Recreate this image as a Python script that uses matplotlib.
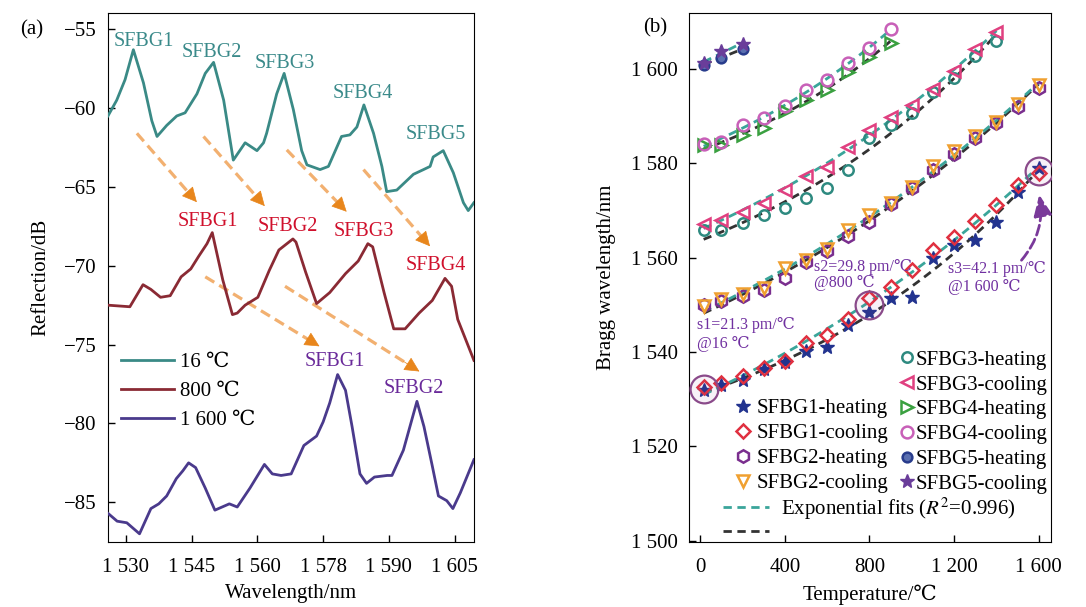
import matplotlib
matplotlib.use('Agg')
import matplotlib.pyplot as plt
import numpy as np

plt.rcParams['font.family'] = ['Liberation Serif', 'DejaVu Serif', 'DejaVu Sans']
plt.rcParams['mathtext.fontset'] = 'stix'

# ---- (a) reflection spectra ----
# wavelength axis is drawn on an evenly spaced scale, labels as printed
wl_ticks = [1530, 1545, 1560, 1575, 1590, 1605]
wl_ticklabels = ['1 530', '1 545', '1 560', '1 578', '1 590', '1 605']
db_ticks = [-85, -80, -75, -70, -65, -60, -55]

wl_16 = [1525.9, 1527.9, 1529.8, 1531.7, 1534.0, 1535.9, 1537.1, 1539.3, 1541.6, 1543.5,
         1546.2, 1548.1, 1550.0, 1552.3, 1554.5, 1557.2, 1559.9, 1561.4, 1562.1, 1564.4,
         1566.1, 1568.2, 1570.1, 1571.3, 1574.3, 1576.2, 1579.2, 1581.1, 1582.7, 1584.3,
         1586.5, 1588.4, 1589.5, 1591.8, 1595.6, 1597.9, 1599.4, 1600.1, 1602.4, 1604.7,
         1607.0, 1608.1, 1609.4]
db_16 = [-60.5, -59.5, -58.2, -56.3, -58.4, -60.8, -61.8, -61.1, -60.5, -60.3,
         -59.1, -57.8, -57.1, -59.5, -63.3, -62.2, -62.7, -62.2, -61.6, -59.1,
         -57.8, -60.1, -62.7, -63.6, -63.9, -63.7, -61.8, -61.7, -61.2, -59.8,
         -61.6, -63.7, -65.3, -65.2, -64.2, -63.9, -63.7, -63.1, -62.7, -64.1,
         -66.0, -66.5, -66.0]

wl_800 = [1525.9, 1530.9, 1533.9, 1535.7, 1537.9, 1540.1, 1542.6, 1544.8, 1546.6, 1548.5,
          1549.7, 1552.1, 1554.3, 1555.4, 1557.2, 1560.1, 1562.7, 1564.9, 1568.1, 1568.8,
          1571.0, 1573.5, 1576.5, 1580.1, 1583.0, 1585.2, 1586.3, 1588.9, 1591.1, 1593.7,
          1596.9, 1599.9, 1602.8, 1604.3, 1605.7, 1609.4]
db_800 = [-72.5, -72.6, -71.2, -71.5, -72.0, -71.9, -70.7, -70.2, -69.4, -68.6,
          -67.9, -70.9, -73.1, -73.0, -72.5, -72.0, -70.3, -69.0, -68.3, -68.5,
          -70.4, -72.4, -71.7, -70.5, -69.7, -68.6, -68.8, -71.7, -74.0, -74.0,
          -73.0, -72.2, -70.8, -71.3, -73.4, -76.0]

wl_1600 = [1525.9, 1528.0, 1530.2, 1533.1, 1535.7, 1537.5, 1539.3, 1541.5, 1543.0, 1544.3,
           1545.9, 1548.1, 1550.3, 1553.6, 1555.4, 1558.3, 1561.6, 1563.4, 1565.4, 1567.7,
           1570.6, 1573.5, 1575.0, 1576.5, 1578.3, 1580.1, 1581.6, 1583.4, 1584.9, 1586.7,
           1589.6, 1590.7, 1593.3, 1596.4, 1598.0, 1599.9, 1601.3, 1603.2, 1604.6, 1606.3,
           1609.4]
db_1600 = [-85.7, -86.2, -86.3, -87.0, -85.4, -85.1, -84.6, -83.5, -83.0, -82.5,
           -82.8, -84.1, -85.5, -85.1, -85.3, -84.1, -82.6, -83.2, -83.3, -83.2,
           -81.4, -80.8, -79.9, -78.7, -76.9, -77.9, -80.2, -83.2, -83.8, -83.4,
           -83.3, -83.3, -81.7, -78.6, -80.2, -82.7, -84.6, -84.9, -85.4, -84.4,
           -82.3]

# peak labels: (x, y) for each spectrum
lab16_x = [1534.0, 1549.6, 1566.3, 1584.0, 1600.7]
lab16_y = [-55.8, -56.5, -57.2, -59.1, -61.7]
lab800_x = [1548.7, 1566.9, 1584.3, 1600.7]
lab800_y = [-67.2, -67.5, -67.8, -70.0]
lab1600_x = [1577.6, 1595.6]
lab1600_y = [-76.1, -77.8]

# orange shift arrows
arrow_x0 = [1532.5, 1547.7, 1566.7, 1584.2, 1548.1, 1566.3]
arrow_y0 = [-61.6, -61.8, -62.65, -63.9, -70.7, -71.3]
arrow_x1 = [1546.6, 1562.1, 1580.8, 1599.8, 1574.7, 1597.5]
arrow_y1 = [-66.1, -66.35, -66.7, -68.9, -75.2, -76.8]

# ---- (b) Bragg wavelength vs temperature ----
temp = [16, 100, 200, 300, 400, 500, 600, 700, 800, 900, 1000, 1100, 1200, 1300, 1400, 1500, 1600]
sfbg1_heat = [1532.0, 1533.0, 1534.0, 1536.3, 1537.8, 1540.2, 1541.1, 1545.7, 1548.4, 1551.4,
              1551.7, 1559.9, 1562.7, 1563.7, 1567.6, 1574.0, 1578.9]
sfbg1_cool = [1532.5, 1533.5, 1534.9, 1536.6, 1538.0, 1541.8, 1543.7, 1546.9, 1551.4, 1553.8,
              1557.4, 1561.6, 1564.4, 1567.8, 1571.2, 1575.4, 1577.9]
sfbg2_heat = [1549.9, 1550.9, 1551.8, 1553.2, 1555.6, 1559.0, 1561.3, 1564.6, 1567.6, 1571.3,
              1574.7, 1578.6, 1582.0, 1585.3, 1588.5, 1592.0, 1596.0]
sfbg2_cool = [1549.8, 1551.2, 1552.2, 1553.6, 1557.8, 1559.5, 1561.8, 1565.8, 1569.0, 1571.6,
              1575.0, 1579.4, 1582.5, 1585.8, 1588.8, 1592.6, 1596.6]
sfbg3_heat = [1565.9, 1565.9, 1567.3, 1569.0, 1570.5, 1572.6, 1574.7, 1578.6, 1585.3, 1588.1,
              1590.6, 1595.0, 1598.0, 1602.8, 1605.8]
sfbg3_cool = [1567.1, 1568.0, 1569.7, 1571.6, 1574.3, 1577.2, 1579.3, 1583.5, 1587.0, 1589.7,
              1592.4, 1595.7, 1599.6, 1604.2, 1607.8]
sfbg4_heat = [1583.9, 1583.9, 1586.0, 1587.4, 1591.0, 1593.4, 1595.5, 1599.4, 1602.6, 1605.4]
sfbg4_cool = [1584.0, 1584.4, 1588.1, 1589.5, 1592.2, 1595.5, 1597.7, 1601.2, 1604.4, 1608.4]
sfbg5_heat = [1600.9, 1602.4, 1604.2]
sfbg5_cool = [1601.2, 1603.8, 1605.3]

ring_idx = [0, 8, 16]          # highlighted SFBG1 points (16, 800, 1600 C)
t_ticks = [0, 400, 800, 1200, 1600]
t_ticklabels = ['0', '400', '800', '1 200', '1 600']
bw_ticks = [1500, 1520, 1540, 1560, 1580, 1600]
bw_ticklabels = ['1 500', '1 520', '1 540', '1 560', '1 580', '1 600']


def exp_fit(t, y):
    # y = a + b*exp(t/tau), tau by grid search, a/b by least squares
    t = np.asarray(t, float)
    y = np.asarray(y, float)
    best = None
    for tau in np.linspace(200, 8000, 400):
        X = np.column_stack([np.ones_like(t), np.exp(t / tau)])
        coef, *_ = np.linalg.lstsq(X, y, rcond=None)
        err = np.sum((X @ coef - y) ** 2)
        if best is None or err < best[0]:
            best = (err, tau, coef)
    _, tau, coef = best
    tt = np.linspace(t.min(), t.max(), 100)
    return tt, coef[0] + coef[1] * np.exp(tt / tau)


fig = plt.figure(figsize=(10.86, 6.07), dpi=100)
ax1 = fig.add_axes([0.0994, 0.1076, 0.3370, 0.8715])
ax2 = fig.add_axes([0.6344, 0.1076, 0.3331, 0.8715])

# ---------- panel (a) ----------
ax1.plot(wl_16, db_16, color='#3a8a86', lw=2, label='16 ℃', zorder=3)
ax1.plot(wl_800, db_800, color='#8a2a34', lw=2, label='800 ℃', zorder=3)
ax1.plot(wl_1600, db_1600, color='#4a3a8c', lw=2, label='1 600 ℃', zorder=3)

for x0, y0, x1, y1 in zip(arrow_x0, arrow_y0, arrow_x1, arrow_y1):
    xm = x0 + 0.9 * (x1 - x0)
    ym = y0 + 0.9 * (y1 - y0)
    ax1.plot([x0, xm], [y0, ym], ls=(0, (3.3, 1.8)), color='#f2b070', lw=2.3, zorder=2)
    ax1.annotate('', xy=(x1, y1), xytext=(x0 + 0.85 * (x1 - x0), y0 + 0.85 * (y1 - y0)),
                 arrowprops=dict(arrowstyle='-|>,head_length=0.8,head_width=0.4',
                                 color='#e8861c', lw=0.5, mutation_scale=12), zorder=2)

for i, (x, y) in enumerate(zip(lab16_x, lab16_y)):
    ax1.text(x, y, f'SFBG{i + 1}', color='#3a8a8a', fontsize=14.5, ha='center', va='center')
for i, (x, y) in enumerate(zip(lab800_x, lab800_y)):
    ax1.text(x, y, f'SFBG{i + 1}', color='#d0102c', fontsize=14.5, ha='center', va='center')
for i, (x, y) in enumerate(zip(lab1600_x, lab1600_y)):
    ax1.text(x, y, f'SFBG{i + 1}', color='#6a2a9a', fontsize=14.5, ha='center', va='center')

ax1.set_xlim(1525.9, 1609.4)
ax1.set_ylim(-87.5, -53.95)
ax1.set_xticks(wl_ticks)
ax1.set_xticklabels(wl_ticklabels)
ax1.set_yticks(db_ticks)
ax1.tick_params(direction='in', length=5, width=1, labelsize=15, pad=8)
ax1.tick_params(axis='x', pad=12)
ax1.set_xlabel('Wavelength/nm', fontsize=15, labelpad=5)
ax1.set_ylabel('Reflection/dB', fontsize=15, labelpad=10)
ax1.legend(loc='upper left', bbox_to_anchor=(0.037, 0.358), frameon=False, fontsize=15,
           handlelength=2.5, handletextpad=0.3, labelspacing=0.45, borderpad=0,
           borderaxespad=0)
fig.text(20 / 1086, 1 - 30 / 607, '(a)', fontsize=15, ha='left', va='center')

# ---------- panel (b) ----------
cool_fit_color = '#3aa59a'
heat_fit_color = '#333333'
for heat, cool in [(sfbg1_heat, sfbg1_cool), (sfbg2_heat, sfbg2_cool), (sfbg3_heat, sfbg3_cool),
                   (sfbg4_heat, sfbg4_cool), (sfbg5_heat, sfbg5_cool)]:
    tt, fh = exp_fit(temp[:len(heat)], heat)
    ax2.plot(tt, fh, ls=(0, (3, 2)), color=heat_fit_color, lw=2, zorder=1)
    tt, fc = exp_fit(temp[:len(cool)], cool)
    ax2.plot(tt, fc, ls=(0, (3, 2)), color=cool_fit_color, lw=2, zorder=1)

mk = dict(ls='none', zorder=3)
h1h, = ax2.plot(temp, sfbg1_heat, marker='*', ms=10, color='#22338f', label='SFBG1-heating', **mk)
h1c, = ax2.plot(temp, sfbg1_cool, marker='D', ms=7, mfc='none', mec='#e03040', mew=1.8,
                label='SFBG1-cooling', **mk)
h2h, = ax2.plot(temp, sfbg2_heat, marker='h', ms=9, mfc='none', mec='#7a2e8e', mew=1.8,
                label='SFBG2-heating', **mk)
h2c, = ax2.plot(temp, sfbg2_cool, marker='v', ms=8.5, mfc='none', mec='#f0a030', mew=1.8,
                label='SFBG2-cooling', **mk)
h3h, = ax2.plot(temp[:len(sfbg3_heat)], sfbg3_heat, marker='o', ms=7.5, mfc='none', mec='#2e8a80',
                mew=1.8, label='SFBG3-heating', **mk)
h3c, = ax2.plot(temp[:len(sfbg3_cool)], sfbg3_cool, marker='<', ms=8.5, mfc='none', mec='#e04080',
                mew=1.8, label='SFBG3-cooling', **mk)
h4h, = ax2.plot(temp[:len(sfbg4_heat)], sfbg4_heat, marker='>', ms=8.5, mfc='none', mec='#3aa040',
                mew=1.8, label='SFBG4-heating', **mk)
h4c, = ax2.plot(temp[:len(sfbg4_cool)], sfbg4_cool, marker='o', ms=8.5, mfc='none', mec='#c860b8',
                mew=1.8, label='SFBG4-cooling', **mk)
h5h, = ax2.plot(temp[:len(sfbg5_heat)], sfbg5_heat, marker='o', ms=7, mfc='#5a6fb0', mec='#283c8c',
                mew=1.8, label='SFBG5-heating', **mk)
h5c, = ax2.plot(temp[:len(sfbg5_cool)], sfbg5_cool, marker='*', ms=10, color='#6a3d9a',
                label='SFBG5-cooling', **mk)

ring_t = [temp[i] for i in ring_idx]
ring_y = [(sfbg1_heat[i] + sfbg1_cool[i]) / 2 for i in ring_idx]
ax2.plot(ring_t, ring_y, ls='none', marker='o', ms=20, mfc=(0.6, 0.3, 0.6, 0.08), mec='#8a4a8a',
         mew=1.6, zorder=4)

note = dict(color='#7030a0', fontsize=11.5, ha='left', va='center')
ax2.text(-15, 1545.7, 's1=21.3 pm/℃', **note)
ax2.text(-15, 1541.6, '@16 ℃', **note)
ax2.text(538, 1558.1, 's2=29.8 pm/℃', **note)
ax2.text(538, 1554.7, '@800 ℃', **note)
ax2.text(1173, 1557.5, 's3=42.1 pm/℃', **note)
ax2.text(1173, 1553.7, '@1 600 ℃', **note)
ax2.annotate('', xy=(temp[-1], ring_y[-1] - 4.5), xytext=(1510, 1559),
             arrowprops=dict(arrowstyle='-|>,head_length=0.8,head_width=0.35', color='#7a3a9a',
                             lw=2, ls='--', connectionstyle='arc3,rad=0.25', mutation_scale=16))

leg_a = ax2.legend([h3h, h3c, h4h, h4c, h5h, h5c],
                   ['SFBG3-heating', 'SFBG3-cooling', 'SFBG4-heating', 'SFBG4-cooling',
                    'SFBG5-heating', 'SFBG5-cooling'],
                   loc='upper left', bbox_to_anchor=(0.579, 0.362), frameon=False, fontsize=15,
                   handlelength=0.8, handletextpad=0.05, labelspacing=0.25, borderpad=0,
                   borderaxespad=0, numpoints=1)
ax2.add_artist(leg_a)
leg_b = ax2.legend([h1h, h1c, h2h, h2c],
                   ['SFBG1-heating', 'SFBG1-cooling', 'SFBG2-heating', 'SFBG2-cooling'],
                   loc='upper left', bbox_to_anchor=(0.127, 0.270), frameon=False, fontsize=15,
                   handlelength=0.8, handletextpad=0.25, labelspacing=0.25, borderpad=0,
                   borderaxespad=0, numpoints=1)
ax2.add_artist(leg_b)
fit_c = plt.Line2D([], [], ls=(0, (3, 2)), color=cool_fit_color, lw=2)
fit_h = plt.Line2D([], [], ls=(0, (3, 2)), color=heat_fit_color, lw=2)
ax2.legend([fit_c, fit_h], ['Exponential fits ($R^2$=0.996)', ' '], loc='upper left',
           bbox_to_anchor=(0.094, 0.088), frameon=False, fontsize=15, handlelength=2.2,
           handletextpad=0.6, labelspacing=0.1, borderpad=0, borderaxespad=0)

ax2.set_xlim(-53.4, 1656.7)
ax2.set_ylim(1499.8, 1611.9)
ax2.set_xticks(t_ticks)
ax2.set_xticklabels(t_ticklabels)
ax2.set_yticks(bw_ticks)
ax2.set_yticklabels(bw_ticklabels)
ax2.tick_params(direction='in', length=5, width=1, labelsize=15, pad=8)
ax2.tick_params(axis='x', pad=12)
ax2.set_xlabel('Temperature/℃', fontsize=15, labelpad=5)
ax2.set_ylabel('Bragg wavelength/nm', fontsize=15, labelpad=11)
fig.text(655 / 1086, 1 - 28 / 607, '(b)', fontsize=15, ha='center', va='center')

fig.savefig('out.png', dpi=100)
